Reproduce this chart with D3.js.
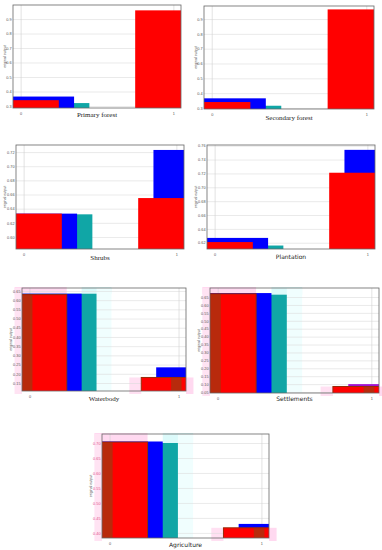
<!DOCTYPE html>
<html>
<head>
<meta charset="utf-8">
<script src="https://cdn.jsdelivr.net/npm/d3@7"></script>
<style>
  body { margin: 0; background: #fff; }
  svg { display: block; }
</style>
</head>
<body>
<div id="chartholder"></div>
<script>
// chart values, one entry per panel
var panelTitles = ["Primary forest", "Secondary forest", "Shrubs", "Plantation", "Waterbody", "Settlements", "Agriculture"];
var categories = [0, 1];
var redValues   = [[0.34, 0.96], [0.34, 0.965], [0.633, 0.655], [0.621, 0.721], [0.63, 0.18], [0.67, 0.085], [0.703, 0.417]];
var blueValues  = [[0.365, 0.95], [0.365, 0.95], [0.633, 0.723], [0.627, 0.754], [0.635, 0.235], [0.675, 0.10], [0.705, 0.43]];
var tealValues  = [[0.32, 0.94], [0.315, 0.94], [0.632, 0.64], [0.616, 0.70], [0.635, 0.15], [0.665, 0.07], [0.70, 0.40]];
var yDomains = [[0.286, 0.997], [0.293, 0.988], [0.583, 0.730], [0.611, 0.761], [0.1065, 0.666], [0.044, 0.707], [0.383, 0.73]];
var yTicks = [
  [0.3, 0.4, 0.5, 0.6, 0.7, 0.8, 0.9],
  [0.3, 0.4, 0.5, 0.6, 0.7, 0.8, 0.9],
  [0.60, 0.62, 0.64, 0.66, 0.68, 0.70, 0.72],
  [0.62, 0.64, 0.66, 0.68, 0.70, 0.72, 0.74, 0.76],
  [0.15, 0.20, 0.25, 0.30, 0.35, 0.40, 0.45, 0.50, 0.55, 0.60, 0.65],
  [0.05, 0.10, 0.15, 0.20, 0.25, 0.30, 0.35, 0.40, 0.45, 0.50, 0.55, 0.60, 0.65],
  [0.40, 0.45, 0.50, 0.55, 0.60, 0.65, 0.70]
];
var yLabel = "original output";

// panel boxes (plot area), title baselines, title fonts
var boxes = [
  {x: 13,  y: 5,   w: 168, h: 103, ty: 117, font: "Liberation Serif"},
  {x: 204, y: 6,   w: 170, h: 103, ty: 120, font: "Liberation Serif"},
  {x: 16,  y: 145, w: 168, h: 104, ty: 260, font: "Liberation Serif"},
  {x: 207, y: 145, w: 168, h: 104, ty: 259, font: "DejaVu Sans"},
  {x: 22,  y: 288, w: 164, h: 103, ty: 401, font: "Liberation Serif"},
  {x: 210, y: 288, w: 169, h: 105, ty: 401, font: "DejaVu Sans"},
  {x: 102, y: 434, w: 167, h: 104, ty: 547, font: "DejaVu Sans"}
];
var smudged = [false, false, false, false, true, true, true]; // scanned-look panels

var barColors = ["#10a6a6", "#0000ff", "#ff0000"]; // draw order: teal, blue, red
var barOffsets = [0.2, 0.1, 0];
var barWidth = 0.5;

var svg = d3.select("#chartholder")
            .append("svg")
            .attr("width", 382)
            .attr("height", 550);

boxes.forEach(function(b, i) {
  var x = d3.scaleLinear().domain([-0.05, 1.05]).range([0, b.w]);
  var y = d3.scaleLinear().domain(yDomains[i]).range([b.h, 0]);

  var g = svg.append("g")
             .attr("transform", "translate(" + b.x + "," + b.y + ")");

  g.append("clipPath").attr("id", "clip" + i)
   .append("rect").attr("width", b.w).attr("height", b.h);

  //faint halos around bars on the scanned panels
  if (smudged[i]) {
    var r = redValues[i], t = tealValues[i];
    g.append("rect").attr("x", x(-0.1)).attr("y", -1).attr("width", x(0.25) - x(-0.1)).attr("height", y(r[0]) + 1).attr("fill", "#ffd9f0");
    g.append("rect").attr("x", x(-0.1)).attr("y", 0).attr("width", x(-0.05) - x(-0.1)).attr("height", b.h + 3).attr("fill", "#ffe3f3");
    g.append("rect").attr("x", x(0.35)).attr("y", -1).attr("width", x(0.55) - x(0.35)).attr("height", y(t[0]) + 1).attr("fill", "#dcfafa");
    g.append("rect").attr("x", x(0.45)).attr("y", 0).attr("width", x(0.55) - x(0.45)).attr("height", b.h).attr("fill", "#f0fefe");
    g.append("rect").attr("x", x(0.67)).attr("y", y(r[1])).attr("width", x(0.75) - x(0.67)).attr("height", b.h + 3 - y(r[1])).attr("fill", "#ffe0f2");
    g.append("rect").attr("x", x(1.05)).attr("y", y(r[1])).attr("width", x(1.1) - x(1.05)).attr("height", b.h + 3 - y(r[1])).attr("fill", "#ffd9f0");
  }

  //grid
  g.append("g")
   .attr("class", "grid")
   .call(d3.axisLeft(y).tickValues(yTicks[i]).tickSize(-b.w).tickFormat(""))
   .call(function(s) {
     s.select(".domain").remove();
     s.selectAll("line").attr("stroke", "#dcdcdc").attr("stroke-width", 0.6);
   });
  g.append("g")
   .call(d3.axisBottom(x).tickValues(categories).tickSize(b.h).tickFormat(""))
   .call(function(s) {
     s.select(".domain").remove();
     s.selectAll("line").attr("stroke", "#d0d0d0").attr("stroke-width", 0.6);
   });

  //bars
  var seriesVals = [tealValues[i], blueValues[i], redValues[i]];
  var bars = g.append("g").attr("clip-path", "url(#clip" + i + ")");
  seriesVals.forEach(function(vals, s) {
    bars.selectAll(".s" + s)
        .data(categories)
        .enter().append("rect")
        .attr("class", "s" + s)
        .attr("x", function(c) { return x(c - barWidth / 2 + barOffsets[s]); })
        .attr("width", x(barWidth) - x(0))
        .attr("y", function(c, k) { return y(vals[k]); })
        .attr("height", function(c, k) { return b.h + 2 - y(vals[k]); })
        .attr("fill", function(c) { return (i == 5 && s == 1 && c == 1) ? "#a010d0" : barColors[s]; });
  });

  //darker strips over the red bars on the scanned panels
  if (smudged[i]) {
    var rv = redValues[i];
    bars.selectAll(".dark")
        .data(categories)
        .enter().append("rect")
        .attr("class", "dark")
        .attr("x", function(c) { return x(c - 0.05); })
        .attr("width", x(0.07) - x(0))
        .attr("y", function(c, k) { return y(rv[k]); })
        .attr("height", function(c, k) { return b.h + 2 - y(rv[k]); })
        .attr("fill", "#b82a0c");
    bars.selectAll(".edge")
        .data(categories)
        .enter().append("rect")
        .attr("class", "edge")
        .attr("x", function(c) { return x(c - barWidth / 2); })
        .attr("width", x(barWidth) - x(0))
        .attr("y", function(c, k) { return y(rv[k]); })
        .attr("height", function(c, k) { return b.h + 2 - y(rv[k]); })
        .attr("fill", "none")
        .attr("stroke", "#9a2a08")
        .attr("stroke-width", 1);
  }

  //y axis labels
  g.append("g")
   .call(d3.axisLeft(y).tickValues(yTicks[i]).tickSize(0).tickPadding(1.5).tickFormat(d3.format(i < 2 ? ".1f" : ".2f")))
   .call(function(s) {
     s.select(".domain").remove();
     s.selectAll("text").attr("font-size", 3.8).attr("fill", smudged[i] && i == 6 ? "#e0508a" : "#555").attr("font-family", "Liberation Sans");
   });

  //x axis labels
  g.append("g")
   .attr("transform", "translate(0," + b.h + ")")
   .call(d3.axisBottom(x).tickValues(categories).tickSize(0).tickPadding(4).tickFormat(d3.format("d")))
   .call(function(s) {
     s.select(".domain").remove();
     s.selectAll("text").attr("font-size", 3.8).attr("fill", "#555").attr("font-family", "Liberation Sans");
   });

  //frame
  g.append("rect")
   .attr("width", b.w).attr("height", b.h)
   .attr("fill", "none").attr("stroke", "#666").attr("stroke-width", 0.8);

  //y title
  g.append("text")
   .attr("transform", "translate(" + (i < 2 ? -7.5 : -10) + "," + (b.h / 2) + ") rotate(-90)")
   .attr("text-anchor", "middle")
   .attr("font-size", 3.6)
   .attr("font-family", "Liberation Sans")
   .attr("fill", "#444")
   .text(yLabel);

  //panel title
  svg.append("text")
     .attr("x", b.x + b.w / 2)
     .attr("y", b.ty)
     .attr("text-anchor", "middle")
     .attr("font-size", b.font == "DejaVu Sans" ? 6 : 7)
     .attr("font-family", b.font)
     .attr("fill", "#222")
     .text(panelTitles[i]);
});
</script>
</body>
</html>
